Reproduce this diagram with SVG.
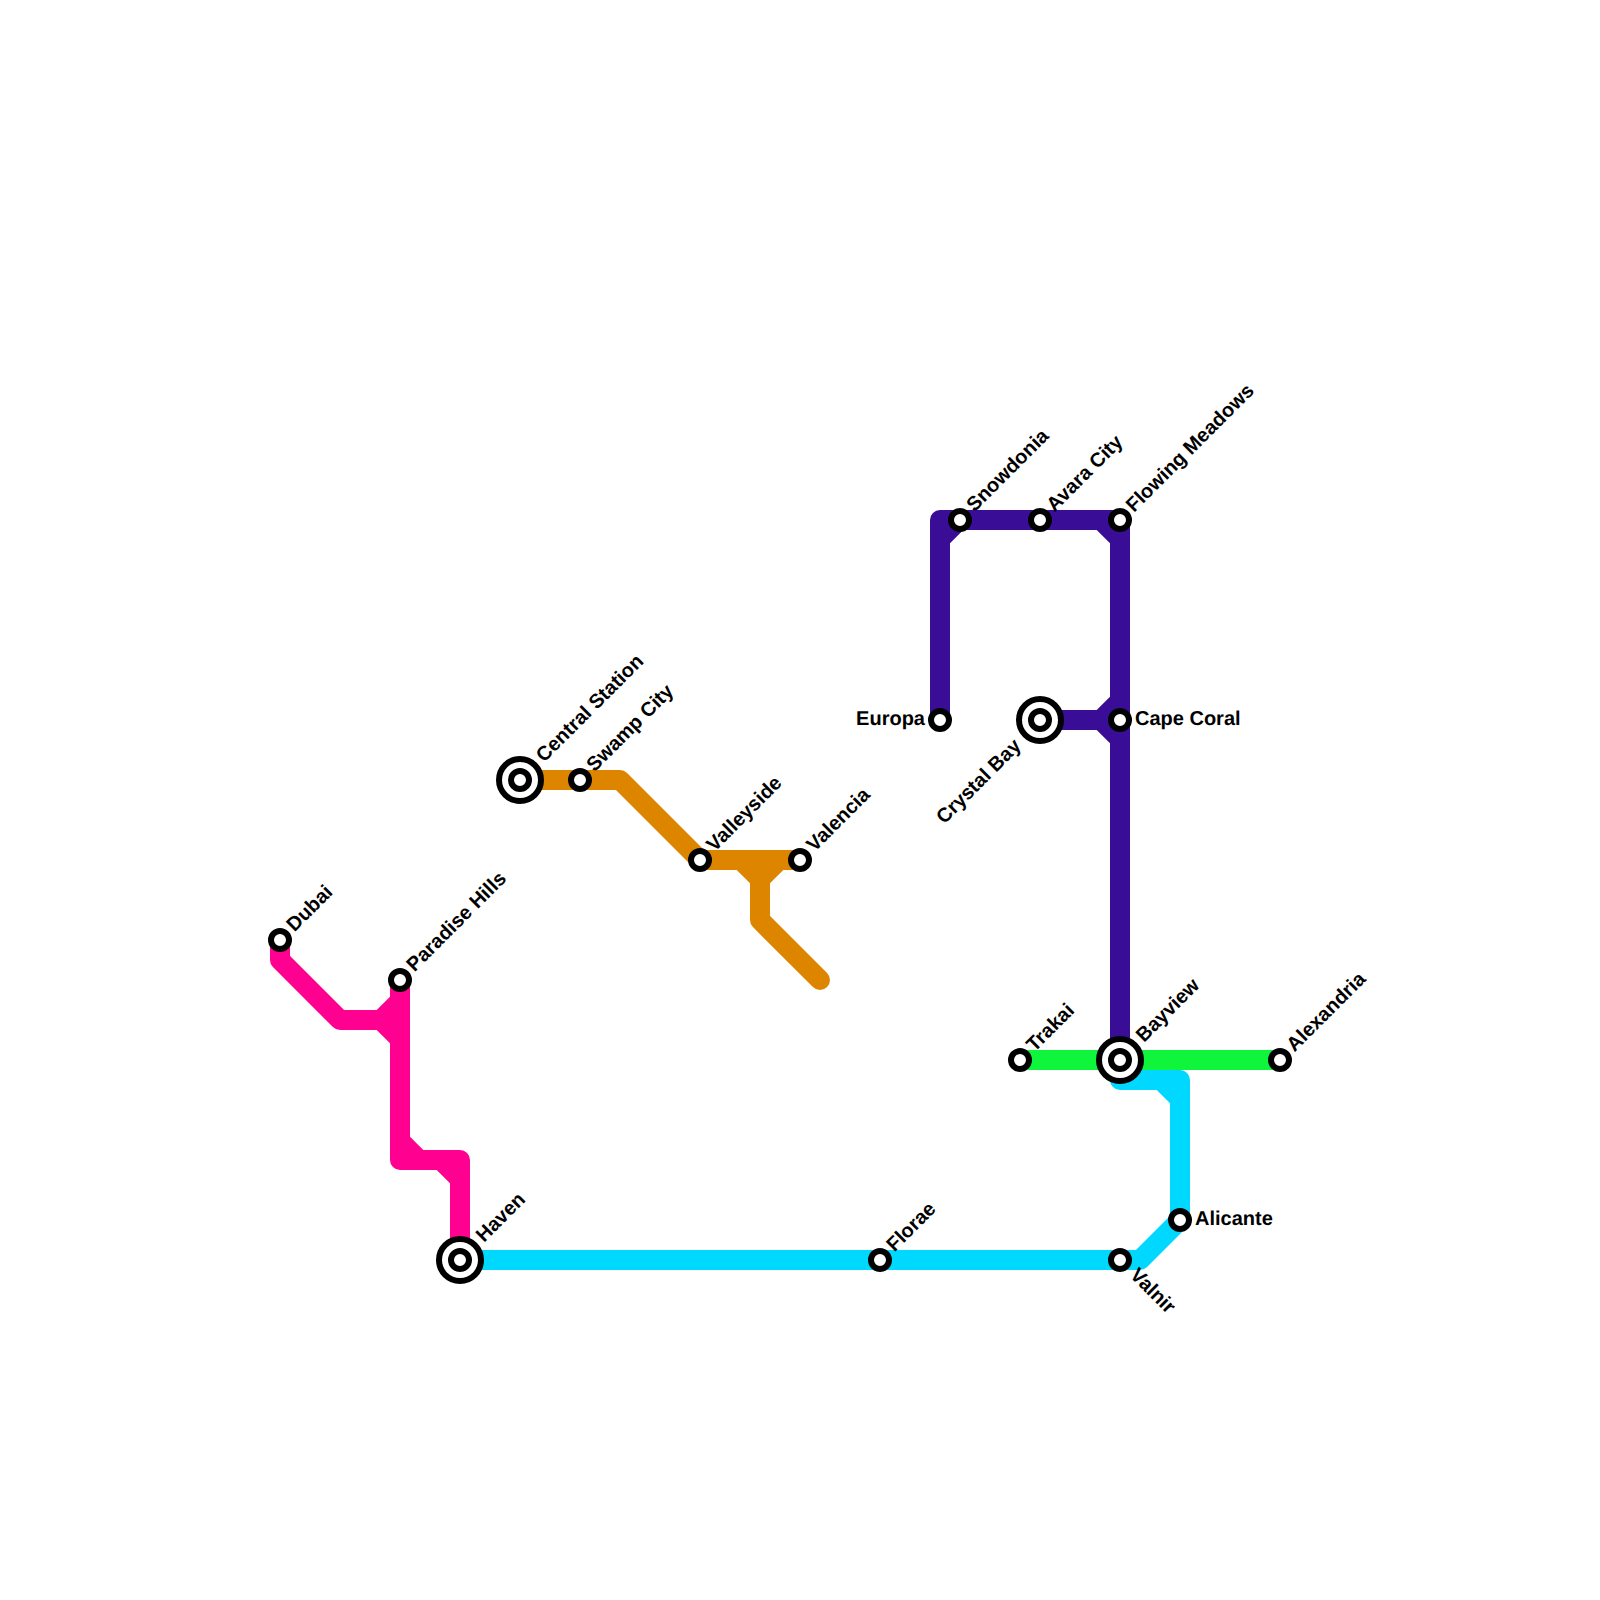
<svg xmlns="http://www.w3.org/2000/svg" width="1600" height="1600" viewBox="0 0 1600 1600">
<style>
.line{fill:none;stroke-width:20;stroke-linecap:round;stroke-linejoin:round}
.st{fill:#fff;stroke:#000;stroke-width:6}
.ring{fill:#fff;stroke:#000;stroke-width:6}
text{font-family:"Liberation Sans",Arial,sans-serif;font-weight:700;font-size:20px;fill:#000;text-rendering:geometricPrecision}
.pink{stroke:#ff0090}.pf{fill:#ff0090}
.orange{stroke:#de8500}.of{fill:#de8500}
.purple{stroke:#390d96}.uf{fill:#390d96}
.green{stroke:#0ff53c}
.cyan{stroke:#00d8ff}.cf{fill:#00d8ff}
</style>
<rect width="1600" height="1600" fill="#fff"/>
<g id="connectors">
<path class="line purple" d="M940 720V520H1120V1060M1040 720H1120"/>
<path class="uf" d="M950 530H963.3L950 543.3ZM1096.7 530H1110V543.3ZM1096.7 710L1110 696.7V743.3L1096.7 730Z"/>
<path class="line green" d="M1020 1060H1280"/>
<path class="line cyan" d="M460 1260H1140L1180 1220V1080H1120V1060"/>
<path class="cf" d="M1156.7 1090H1170V1103.3Z"/>
<path class="line pink" d="M280 940V960L340 1020H400M400 980V1160H460V1260"/>
<path class="pf" d="M376.7 1010L390 996.7V1043.3L376.7 1030ZM410 1136.7L423.3 1150H410ZM436.7 1170H450V1183.3Z"/>
<path class="line orange" d="M520 780H620L700 860H800M760 860V920L820 980"/>
<path class="of" d="M736.7 870L750 883.3H770L783.3 870Z"/>
</g>
<g id="dubai"><circle class="st" cx="280" cy="940" r="9"/><text transform="translate(294.5 932.5) rotate(-45)">Dubai</text></g>
<g id="paradise-hills"><circle class="st" cx="400" cy="980" r="9"/><text transform="translate(414.5 972.5) rotate(-45)">Paradise Hills</text></g>
<g id="haven"><circle class="ring" cx="460" cy="1260" r="21"/><circle class="st" cx="460" cy="1260" r="9"/><text transform="translate(484 1243) rotate(-45)">Haven</text></g>
<g id="central-station"><circle class="ring" cx="520" cy="780" r="21"/><circle class="st" cx="520" cy="780" r="9"/><text transform="translate(544 763) rotate(-45)">Central Station</text></g>
<g id="swamp-city"><circle class="st" cx="580" cy="780" r="9"/><text transform="translate(594.5 772.5) rotate(-45)">Swamp City</text></g>
<g id="valleyside"><circle class="st" cx="700" cy="860" r="9"/><text transform="translate(714.5 852.5) rotate(-45)">Valleyside</text></g>
<g id="valencia"><circle class="st" cx="800" cy="860" r="9"/><text transform="translate(814.5 852.5) rotate(-45)">Valencia</text></g>
<g id="europa"><circle class="st" cx="940" cy="720" r="9"/><text x="925" y="725" text-anchor="end">Europa</text></g>
<g id="snowdonia"><circle class="st" cx="960" cy="520" r="9"/><text transform="translate(974.5 512.5) rotate(-45)">Snowdonia</text></g>
<g id="avara-city"><circle class="st" cx="1040" cy="520" r="9"/><text transform="translate(1054.5 512.5) rotate(-45)">Avara City</text></g>
<g id="flowing-meadows"><circle class="st" cx="1120" cy="520" r="9"/><text transform="translate(1134 513) rotate(-45)">Flowing Meadows</text></g>
<g id="crystal-bay"><circle class="ring" cx="1040" cy="720" r="21"/><circle class="st" cx="1040" cy="720" r="9"/><text transform="translate(1022 747) rotate(-45)" text-anchor="end">Crystal Bay</text></g>
<g id="cape-coral"><circle class="st" cx="1120" cy="720" r="9"/><text x="1135" y="725">Cape Coral</text></g>
<g id="trakai"><circle class="st" cx="1020" cy="1060" r="9"/><text transform="translate(1034.5 1052.5) rotate(-45)">Trakai</text></g>
<g id="bayview"><circle class="ring" cx="1120" cy="1060" r="21"/><circle class="st" cx="1120" cy="1060" r="9"/><text transform="translate(1144 1043) rotate(-45)">Bayview</text></g>
<g id="alexandria"><circle class="st" cx="1280" cy="1060" r="9"/><text transform="translate(1294.5 1052.5) rotate(-45)">Alexandria</text></g>
<g id="alicante"><circle class="st" cx="1180" cy="1220" r="9"/><text x="1195" y="1225">Alicante</text></g>
<g id="valnir"><circle class="st" cx="1120" cy="1260" r="9"/><text transform="translate(1129 1276) rotate(45)">Valnir</text></g>
<g id="florae"><circle class="st" cx="880" cy="1260" r="9"/><text transform="translate(894.5 1252.5) rotate(-45)">Florae</text></g>
</svg>
